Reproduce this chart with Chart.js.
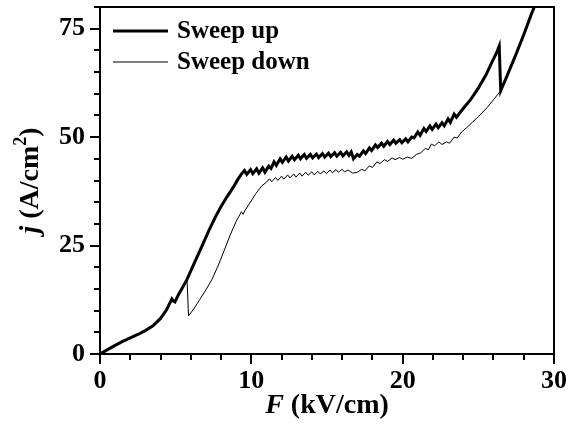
<!DOCTYPE html>
<html>
<head>
<meta charset="utf-8">
<title>Sweep up / Sweep down</title>
<script src="https://cdn.jsdelivr.net/npm/chart.js@4.4.1/dist/chart.umd.min.js"></script>
<style>
    html, body { margin: 0; padding: 0; background: #fff; }
    #wrap { width: 569px; height: 430px; }
</style>
</head>
<body>
<div id="wrap"><canvas id="jfChart" width="569" height="430"></canvas></div>
<script>
// F (kV/cm) and j (A/cm2)
const upF = [0, 0.5, 1, 1.5, 2, 2.5, 3, 3.5, 4, 4.4, 4.75, 4.85, 4.95, 5.2, 5.5, 5.75,
    6.2, 6.7, 7.2, 7.6, 8.0, 8.4, 8.8, 9.1, 9.35,
    9.55, 9.7, 9.95, 10.1, 10.35, 10.5, 10.75, 10.9, 11.15, 11.3, 11.5, 11.65, 11.9, 12.05,
    12.3, 12.45, 12.7, 12.85, 13.1, 13.25, 13.5, 13.65, 13.9, 14.05, 14.3, 14.45, 14.7, 14.85,
    15.1, 15.25, 15.5, 15.65, 15.9, 16.05, 16.3, 16.45, 16.6, 16.75, 17.0, 17.15, 17.4, 17.55,
    17.8, 17.95, 18.2, 18.35, 18.6, 18.75, 19.0, 19.15, 19.4, 19.55, 19.8, 19.95, 20.2, 20.35,
    20.6, 20.75, 21.0, 21.15, 21.4, 21.55, 21.8, 21.95, 22.2, 22.35, 22.6, 22.75, 23.0, 23.15,
    23.4, 23.55, 24.0, 24.5, 25.0, 25.5, 25.9, 26.2, 26.38, 26.48,
    27.0, 27.5, 28.0, 28.5, 28.75, 29.0];
const upJ = [0, 1.0, 2.0, 2.9, 3.7, 4.5, 5.4, 6.5, 8.2, 10.2, 12.7, 12.2, 12.0, 13.8, 15.6, 17.2,
    20.7, 24.6, 28.5, 31.4, 34.0, 36.3, 38.4, 40.2, 41.5,
    42.3, 41.4, 42.5, 41.6, 42.7, 41.7, 42.9, 41.9, 43.3, 42.8, 44.3, 43.5, 45.0, 44.2,
    45.4, 44.5, 45.6, 44.8, 45.8, 45.0, 46.0, 45.1, 46.0, 45.2, 46.1, 45.3, 46.2, 45.4,
    46.3, 45.5, 46.4, 45.6, 46.5, 45.7, 46.6, 45.8, 46.6, 45.0, 46.0, 45.6, 46.8, 46.2,
    47.5, 46.9, 48.2, 47.6, 48.6, 47.9, 49.0, 48.3, 49.3, 48.6, 49.4, 48.7, 49.6, 48.9,
    50.0, 49.8, 51.2, 50.4, 52.0, 51.3, 52.6, 51.8, 53.0, 52.2, 53.3, 52.6, 54.2, 53.4,
    55.3, 54.6, 56.6, 58.7, 61.3, 64.3, 67.3, 69.4, 71.0, 60.7,
    65.0, 69.2, 73.6, 78.3, 80.5, 83.0];

const downF = [0, 0.5, 1, 1.5, 2, 2.5, 3, 3.5, 4, 4.4, 4.75, 4.85, 4.95, 5.2, 5.5, 5.75,
    5.85, 6.2, 6.6, 7.0, 7.4, 7.8, 8.2, 8.6, 9.0, 9.35, 9.45, 9.6, 9.9, 10.3, 10.7, 11.0,
    11.2, 11.35, 11.6, 11.75, 12.0, 12.15, 12.4, 12.55, 12.8, 12.95, 13.2, 13.35, 13.6, 13.75,
    14.0, 14.15, 14.4, 14.55, 14.8, 14.95, 15.2, 15.35, 15.6, 15.75, 16.0, 16.15, 16.4, 16.7,
    17.0, 17.3, 17.5, 17.8, 18.0, 18.3, 18.5, 18.8, 19.0, 19.3, 19.5, 19.8, 20.0, 20.3, 20.6,
    20.9, 21.2, 21.5, 21.7, 21.9, 22.1, 22.4, 22.6, 22.9, 23.1, 23.4, 23.6, 23.9, 24.3, 24.6,
    25.0, 25.6, 26.0, 26.48, 27.0, 27.5, 28.0, 28.5, 28.75, 29.0];
const downJ = [0, 1.0, 2.0, 2.9, 3.7, 4.5, 5.4, 6.5, 8.2, 10.2, 12.7, 12.2, 12.0, 13.8, 15.6, 17.2,
    8.8, 10.4, 12.6, 14.8, 17.2, 20.3, 23.8, 27.4, 30.6, 32.8, 32.2, 33.2, 34.8, 37.0, 38.8, 39.6,
    40.4, 39.7, 40.7, 40.0, 41.0, 40.3, 41.3, 40.6, 41.5, 40.8, 41.7, 41.0, 41.9, 41.2,
    42.0, 41.3, 42.1, 41.5, 42.2, 41.6, 42.4, 41.8, 42.5, 41.9, 42.6, 42.0, 42.4, 41.7,
    41.9, 42.6, 42.2, 43.4, 43.0, 44.3, 43.9, 44.8, 44.4, 45.2, 44.8, 45.3, 44.9, 45.4, 45.1,
    46.0, 46.4, 47.4, 47.1, 48.4, 48.0, 48.9, 48.3, 48.9, 48.6, 50.0, 49.8, 51.2, 52.4, 53.4,
    54.7, 56.9, 58.6, 60.7, 65.0, 69.2, 73.6, 78.3, 80.5, 83.0];

const seriesNames = ['Sweep up', 'Sweep down'];
const xMajorTicks = [0, 10, 20, 30];
const yMajorTicks = [0, 25, 50, 75];

const SERIF = "'Liberation Serif', 'Times New Roman', serif";

document.addEventListener('DOMContentLoaded', function() {
    renderChart();
});

function toPoints(xs, ys) {
    return xs.map((x, i) => ({ x: x, y: ys[i] }));
}

// frame, minor/major ticks, axis titles and the inset legend
const decorPlugin = {
    id: 'decor',
    afterDraw(chart) {
        const ctx = chart.ctx;
        const a = chart.chartArea;
        const xs = chart.scales.x;
        const ys = chart.scales.y;

        ctx.save();
        ctx.strokeStyle = '#000';
        ctx.lineWidth = 2;
        ctx.strokeRect(a.left, a.top, a.right - a.left, a.bottom - a.top);

        ctx.beginPath();
        ys.ticks.forEach(t => {
            const py = Math.round(ys.getPixelForValue(t.value));
            const len = yMajorTicks.includes(t.value) ? 10 : 6;
            ctx.moveTo(a.left - len, py);
            ctx.lineTo(a.left, py);
        });
        xs.ticks.forEach(t => {
            const px = Math.round(xs.getPixelForValue(t.value));
            const len = xMajorTicks.includes(t.value) ? 10 : 6;
            ctx.moveTo(px, a.bottom);
            ctx.lineTo(px, a.bottom + len);
        });
        ctx.stroke();

        ctx.fillStyle = '#000';
        ctx.textBaseline = 'alphabetic';

        // x title: F (kV/cm)
        const fPart = 'F';
        const rest = ' (kV/cm)';
        ctx.font = 'italic bold 28px ' + SERIF;
        const w1 = ctx.measureText(fPart).width;
        ctx.font = 'bold 28px ' + SERIF;
        const w2 = ctx.measureText(rest).width;
        let sx = (a.left + a.right) / 2 - (w1 + w2) / 2;
        ctx.font = 'italic bold 28px ' + SERIF;
        ctx.fillText(fPart, sx, 413);
        ctx.font = 'bold 28px ' + SERIF;
        ctx.fillText(rest, sx + w1, 413);

        // y title: j (A/cm2), rotated
        ctx.save();
        ctx.translate(38, (a.top + a.bottom) / 2);
        ctx.rotate(-Math.PI / 2);
        const parts = [
            { t: 'j', font: 'italic bold 28px ' + SERIF, dy: 0 },
            { t: ' (A/cm', font: 'bold 28px ' + SERIF, dy: 0 },
            { t: '2', font: 'bold 18px ' + SERIF, dy: -12 },
            { t: ')', font: 'bold 28px ' + SERIF, dy: 0 }
        ];
        let total = 0;
        parts.forEach(p => { ctx.font = p.font; p.w = ctx.measureText(p.t).width; total += p.w; });
        let cx = -total / 2;
        parts.forEach(p => {
            ctx.font = p.font;
            ctx.fillText(p.t, cx, p.dy);
            cx += p.w;
        });
        ctx.restore();

        // legend
        ctx.textBaseline = 'middle';
        ctx.font = 'bold 25px ' + SERIF;
        chart.data.datasets.forEach((ds, i) => {
            const ly = 31 + i * 31;
            ctx.beginPath();
            ctx.lineWidth = ds.borderWidth;
            ctx.strokeStyle = ds.borderColor;
            ctx.moveTo(113, ly);
            ctx.lineTo(168, ly);
            ctx.stroke();
            ctx.fillText(ds.label, 177, ly + 1);
        });
        ctx.restore();
    }
};

function renderChart() {
    const ctx = document.getElementById('jfChart').getContext('2d');
    new Chart(ctx, {
        type: 'scatter',
        data: {
            datasets: [{
                label: seriesNames[0],
                data: toPoints(upF, upJ),
                showLine: true,
                borderColor: '#000',
                borderWidth: 3,
                pointRadius: 0,
                tension: 0
            }, {
                label: seriesNames[1],
                data: toPoints(downF, downJ),
                showLine: true,
                borderColor: '#000',
                borderWidth: 1,
                pointRadius: 0,
                tension: 0
            }]
        },
        options: {
            responsive: false,
            animation: false,
            layout: { padding: { top: 7, right: 15, left: 0, bottom: 0 } },
            plugins: {
                legend: { display: false },
                tooltip: { enabled: false }
            },
            scales: {
                x: {
                    type: 'linear',
                    min: 0,
                    max: 30,
                    grid: { display: false, drawTicks: false },
                    border: { display: true, color: '#000', width: 2 },
                    ticks: {
                        stepSize: 2,
                        padding: 12,
                        autoSkip: false,
                        maxRotation: 0,
                        minRotation: 0,
                        color: '#000',
                        font: { family: SERIF, size: 26, weight: 'bold' },
                        callback: v => xMajorTicks.includes(v) ? v : ''
                    },
                    afterFit(scale) {
                        scale.height = 76;
                        scale.paddingLeft = 0;
                        scale.paddingRight = 0;
                    }
                },
                y: {
                    type: 'linear',
                    min: 0,
                    max: 80,
                    grid: { display: false, drawTicks: false },
                    border: { display: true, color: '#000', width: 2 },
                    ticks: {
                        stepSize: 5,
                        padding: 15,
                        autoSkip: false,
                        color: '#000',
                        font: { family: SERIF, size: 26, weight: 'bold' },
                        callback: v => yMajorTicks.includes(v) ? v : ''
                    },
                    afterFit(scale) {
                        scale.width = 100;
                        scale.paddingTop = 0;
                        scale.paddingBottom = 0;
                    }
                }
            }
        },
        plugins: [decorPlugin]
    });
}
</script>
</body>
</html>
